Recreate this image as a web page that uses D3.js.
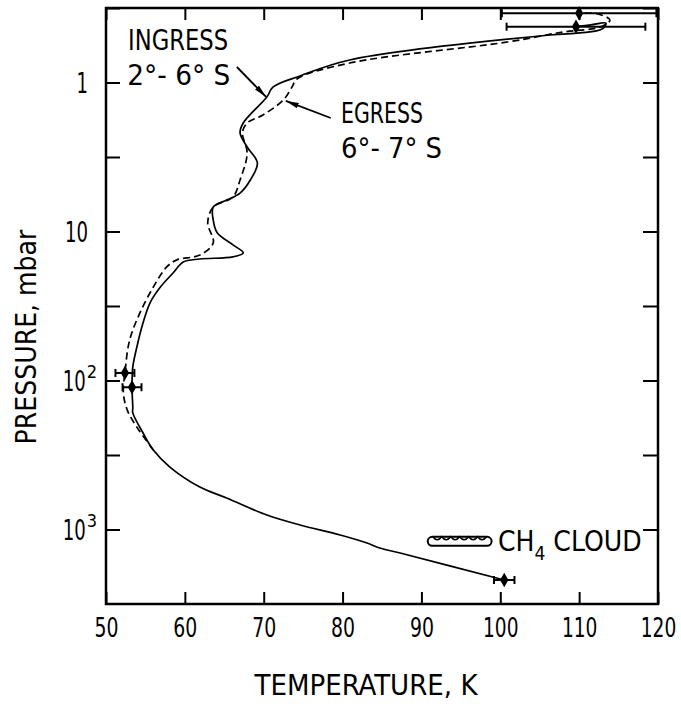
<!DOCTYPE html>
<html lang="en">
<head>
  <meta charset="UTF-8">
  <title>Temperature profile</title>
  <script src="https://d3js.org/d3.v7.min.js"></script>
  <style>
    body { margin: 0; background: #fff; }
    svg text { font-family: "Liberation Sans Narrow", "DejaVu Sans Condensed", "Arial Narrow", sans-serif; fill: #000; }
  </style>
</head>
<body>
  <svg width="681" height="704"></svg>

  <script>
    // ingress profile, 2-6 S (solid), bottom to top
    const ingressT = [100.5, 87.3, 84.7, 83.1, 79.7, 74.6, 70.4, 65.3, 61.9, 58.1, 56.0, 54.7, 53.4, 53.4, 53.3, 53.4, 53.9, 54.7, 55.6, 56.9, 58.5, 59.8, 61.9, 66.1, 67.4, 66.1, 64.1, 63.6, 63.6, 65.3, 67.0, 68.3, 69.2, 67.9, 67.0, 67.4, 70.4, 71.2, 74.6, 80.9, 106.3, 110.1, 112.9, 113.4, 111.5, 109.6];
    const ingressP = [2183, 1439, 1330, 1233, 1089, 933, 800, 615, 519, 381, 293, 225, 165, 151, 111, 81, 60, 41, 30, 23.6, 19.0, 16.0, 15.3, 14.8, 13.9, 12.3, 10.2, 8.4, 6.85, 6.15, 5.52, 4.51, 3.47, 2.71, 2.18, 1.87, 1.25, 1.07, 0.904, 0.706, 0.480, 0.465, 0.438, 0.40, 0.41, 0.422];

    // egress profile, 6-7 S (dashed)
    const egressT = [56.0, 53.9, 52.7, 52.2, 52.4, 53.0, 54.3, 56.0, 57.7, 59.0, 61.9, 63.6, 62.9, 63.6, 66.1, 67.0, 67.9, 67.3, 67.9, 69.9, 72.5, 73.6, 74.2, 80.9, 100.9, 108.0, 112.6, 113.9, 112.4, 110.0];
    const egressP = [293, 205, 158, 121, 89, 53.5, 35.2, 23.6, 17.3, 15.5, 14.4, 11.9, 8.77, 6.85, 5.86, 4.51, 2.97, 2.18, 1.87, 1.65, 1.31, 1.07, 0.948, 0.740, 0.535, 0.458, 0.425, 0.381, 0.347, 0.343];

    // points with error bars
    const pointT = [110.0, 109.6, 52.4, 53.3, 100.5];
    const pointP = [0.343, 0.422, 89, 111, 2183];
    const pointErr = [9.8, 8.8, 1.2, 1.2, 1.3];

    const xTicks = [50, 60, 70, 80, 90, 100, 110, 120];
    const yTicks = [1, 10, 100, 1000];
    const yTickBase = ["1", "10", "10", "10"];
    const yTickSup = ["", "", "2", "3"];
    const yMinor = [0.3162, 1, 3.162, 10, 31.62, 100, 316.2, 1000];

    // annotations
    const noteText = ["INGRESS", "2°- 6° S", "EGRESS", "6°- 7° S"];
    const noteT = [52.8, 52.7, 79.8, 79.8];
    const noteP = [0.605, 1.04, 1.87, 3.21];
    const noteLen = [100, 103, 82, 101];
    const arrowT = [[66.6, 70.3], [78.5, 72.8]];
    const arrowP = [[0.787, 1.25], [1.73, 1.33]];
    const cloudT = [90.8, 98.9];
    const cloudP = 1200;

    const svg = d3.select("svg");

    const x = d3.scaleLinear().domain([50, 120]).range([106, 658]);
    const y = d3.scaleLog().domain([Math.pow(10, -0.5), Math.pow(10, 3.5)]).range([8, 604]);

    // ticks (inward, on all four sides)
    svg.append("g")
        .attr("transform", "translate(0,604)")
        .call(d3.axisBottom(x).tickValues(xTicks).tickSize(-12).tickPadding(14).tickFormat(d3.format("d")))
        .call(g => g.select(".domain").remove())
        .call(g => g.selectAll("line").attr("stroke-width", 2))
        .call(g => g.selectAll("text")
            .attr("font-size", 27).attr("font-family", null)
            .attr("textLength", d => String(d).length * 11.5 + 1)
            .attr("lengthAdjust", "spacingAndGlyphs"));

    svg.append("g")
        .attr("transform", "translate(0,8)")
        .call(d3.axisTop(x).tickValues(xTicks).tickSize(-12).tickFormat(""))
        .call(g => g.select(".domain").remove())
        .call(g => g.selectAll("line").attr("stroke-width", 2));

    svg.append("g")
        .attr("transform", "translate(106,0)")
        .call(d3.axisLeft(y).tickValues(yMinor).tickSize(-14).tickFormat(""))
        .call(g => g.select(".domain").remove())
        .call(g => g.selectAll("line").attr("stroke-width", 2));

    svg.append("g")
        .attr("transform", "translate(658,0)")
        .call(d3.axisRight(y).tickValues(yMinor).tickSize(-15).tickFormat(""))
        .call(g => g.select(".domain").remove())
        .call(g => g.selectAll("line").attr("stroke-width", 2));

    // frame
    svg.append("rect")
        .attr("x", x(50)).attr("y", y.range()[0])
        .attr("width", x(120) - x(50)).attr("height", y.range()[1] - y.range()[0])
        .attr("fill", "none").attr("stroke", "#000").attr("stroke-width", 2.5);

    // y tick labels, base and superscript in one text
    const ylab = svg.append("g").selectAll("text")
        .data(yTicks)
        .enter().append("text")
        .attr("x", (d, i) => yTickSup[i] ? 97 : 88)
        .attr("y", d => y(d))
        .attr("dy", "0.36em")
        .attr("text-anchor", "end")
        .attr("font-size", 28);
    ylab.append("tspan")
        .attr("textLength", (d, i) => yTickBase[i].length * 11.5)
        .attr("lengthAdjust", "spacingAndGlyphs")
        .text((d, i) => yTickBase[i]);
    ylab.append("tspan")
        .attr("dx", 1)
        .attr("dy", -13)
        .attr("font-size", 18)
        .text((d, i) => yTickSup[i]);

    // axis titles
    svg.append("text")
        .attr("x", 366).attr("y", 695)
        .attr("text-anchor", "middle")
        .attr("font-size", 29)
        .text("TEMPERATURE,  K");

    svg.append("text")
        .attr("transform", "translate(36,337) rotate(-90)")
        .attr("text-anchor", "middle")
        .attr("font-size", 28)
        .text("PRESSURE,  mbar");

    // profiles
    const line = d3.line()
        .x(d => x(d[0]))
        .y(d => y(d[1]))
        .curve(d3.curveCatmullRom.alpha(0.5));

    svg.append("path")
        .datum(ingressT.map((t, i) => [t, ingressP[i]]))
        .attr("fill", "none")
        .attr("stroke", "#000")
        .attr("stroke-width", 1.7)
        .attr("d", line);

    svg.append("path")
        .datum(egressT.map((t, i) => [t, egressP[i]]))
        .attr("fill", "none")
        .attr("stroke", "#000")
        .attr("stroke-width", 1.7)
        .attr("stroke-dasharray", "7,4")
        .attr("d", line);

    // error bars and diamonds
    const pts = svg.append("g").selectAll("g")
        .data(pointT)
        .enter().append("g");
    pts.append("line")
        .attr("x1", (d, i) => x(d - pointErr[i]))
        .attr("x2", (d, i) => x(d + pointErr[i]))
        .attr("y1", (d, i) => y(pointP[i]))
        .attr("y2", (d, i) => y(pointP[i]))
        .attr("stroke", "#000").attr("stroke-width", 2);
    [-1, 1].forEach(s => {
      pts.append("line")
          .attr("x1", (d, i) => x(d + s * pointErr[i]))
          .attr("x2", (d, i) => x(d + s * pointErr[i]))
          .attr("y1", (d, i) => y(pointP[i]) - 4)
          .attr("y2", (d, i) => y(pointP[i]) + 4)
          .attr("stroke", "#000").attr("stroke-width", 2);
    });
    pts.append("path")
        .attr("transform", (d, i) => `translate(${x(d)},${y(pointP[i])})`)
        .attr("d", d3.symbol(d3.symbolDiamond, 60))
        .attr("fill", "#000");

    // annotations
    svg.append("g").selectAll("text")
        .data(noteText)
        .enter().append("text")
        .attr("x", (d, i) => x(noteT[i]))
        .attr("y", (d, i) => y(noteP[i]))
        .attr("font-size", 28)
        .attr("textLength", (d, i) => noteLen[i])
        .attr("lengthAdjust", "spacingAndGlyphs")
        .text(d => d);

    svg.append("defs").append("marker")
        .attr("id", "head")
        .attr("markerUnits", "userSpaceOnUse")
        .attr("markerWidth", 14).attr("markerHeight", 8)
        .attr("refX", 13).attr("refY", 4)
        .attr("orient", "auto")
      .append("path")
        .attr("d", "M0,1.2 L13,4 L0,6.8 Z")
        .attr("fill", "#000");

    svg.append("g").selectAll("line")
        .data(arrowT)
        .enter().append("line")
        .attr("x1", d => x(d[0])).attr("x2", d => x(d[1]))
        .attr("y1", (d, i) => y(arrowP[i][0])).attr("y2", (d, i) => y(arrowP[i][1]))
        .attr("stroke", "#000").attr("stroke-width", 1.8)
        .attr("marker-end", "url(#head)");

    // CH4 cloud symbol
    const cx0 = x(cloudT[0]), cx1 = x(cloudT[1]), cy = y(cloudP);
    svg.append("rect")
        .attr("x", cx0).attr("y", cy - 4.5)
        .attr("width", cx1 - cx0).attr("height", 9)
        .attr("rx", 4.5)
        .attr("fill", "none").attr("stroke", "#000").attr("stroke-width", 2);
    const sc = d3.path();
    const n = 6, w = (cx1 - cx0 - 10) / n;
    sc.moveTo(cx0 + 5, cy - 4.5);
    for (let i = 0; i < n; i++) {
      const a = cx0 + 5 + i * w;
      sc.quadraticCurveTo(a + w / 2, cy + 1.5, a + w, cy - 4.5);
    }
    svg.append("path")
        .attr("d", sc.toString())
        .attr("fill", "none").attr("stroke", "#000").attr("stroke-width", 1.5);

    const cl = svg.append("text")
        .attr("x", x(99.7)).attr("y", y(1393))
        .attr("font-size", 28);
    cl.append("tspan").text("CH");
    cl.append("tspan").attr("dy", 9).attr("font-size", 19).text("4");
    cl.append("tspan").attr("dy", -9).text(" CLOUD");
  </script>
</body>
</html>
